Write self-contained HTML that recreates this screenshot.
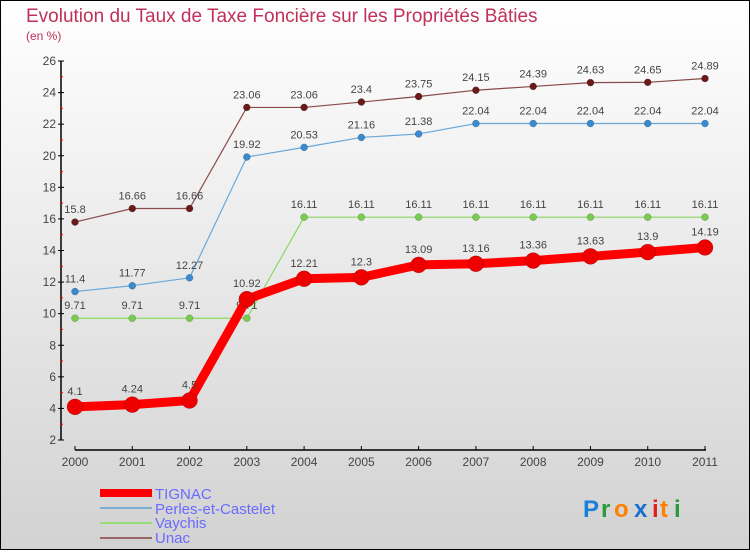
<!DOCTYPE html>
<html><head><meta charset="utf-8"><style>
body{margin:0}
#c{width:750px;height:550px;position:relative;font-family:"Liberation Sans",sans-serif}
text{font-family:"Liberation Sans",sans-serif}
</style></head><body>
<div id="c">
<svg id="s" width="750" height="550" xmlns="http://www.w3.org/2000/svg">
<defs><linearGradient id="bg" x1="0" y1="0" x2="0" y2="1"><stop offset="0" stop-color="#ffffff"/><stop offset="1" stop-color="#d2d2d2"/></linearGradient></defs>
<rect x="0.5" y="0.5" width="749" height="549" fill="url(#bg)" stroke="#000"/>
<text x="26" y="22" font-size="19" fill="#c0305a">Evolution du Taux de Taxe Foncière sur les Propriétés Bâties</text>
<text x="26" y="40" font-size="12" fill="#c0305a">(en %)</text>
<g id="axes"></g><g id="series"></g>
<g>
<rect x="100" y="489" width="52" height="8" fill="#f00"/>
<text x="155" y="499" font-size="15" fill="#6a6aff">TIGNAC</text>
<line x1="100" y1="508" x2="152" y2="508" stroke="#7aaed0" stroke-width="2"/>
<text x="155" y="514" font-size="15" fill="#6a6aff">Perles-et-Castelet</text>
<line x1="100" y1="523" x2="152" y2="523" stroke="#99dd77" stroke-width="2"/>
<text x="155" y="528" font-size="15" fill="#6a6aff">Vaychis</text>
<line x1="100" y1="538" x2="152" y2="538" stroke="#996666" stroke-width="2"/>
<text x="155" y="543" font-size="15" fill="#6a6aff">Unac</text>
</g>
<g font-size="24" font-weight="bold">
<text x="583" y="517" fill="#1a7fd8">P</text><text x="601" y="517" fill="#2a9a3a">r</text><text x="614" y="517" fill="#ff7f00">o</text><text x="634" y="517" fill="#1a6fd0">x</text><text x="652" y="517" fill="#e02020">i</text><text x="660" y="517" fill="#ff7f00">t</text><text x="674" y="517" fill="#2a9a3a">i</text>
</g>
</svg>
</div>
<script>
const years=["2000","2001","2002","2003","2004","2005","2006","2007","2008","2009","2010","2011"];
const yTicks=[2,4,6,8,10,12,14,16,18,20,22,24,26];
const tignac=[4.1,4.24,4.5,10.92,12.21,12.3,13.09,13.16,13.36,13.63,13.9,14.19];
const perles=[11.4,11.77,12.27,19.92,20.53,21.16,21.38,22.04,22.04,22.04,22.04,22.04];
const vaychis=[9.71,9.71,9.71,9.71,16.11,16.11,16.11,16.11,16.11,16.11,16.11,16.11];
const unac=[15.8,16.66,16.66,23.06,23.06,23.4,23.75,24.15,24.39,24.63,24.65,24.89];
const NS="http://www.w3.org/2000/svg";
const xS=i=>75+i*(630/11);
const yS=v=>440-(v-2)*(379/24);
function mk(tag,attrs,parent){const e=document.createElementNS(NS,tag);for(const k in attrs)e.setAttribute(k,attrs[k]);parent.appendChild(e);return e;}
const ax=document.getElementById('axes');
let yl=mk('line',{x1:61,y1:61,x2:61,y2:440,stroke:'#000','stroke-width':1.5},ax);


yTicks.forEach(t=>{const y=yS(t);
 mk('line',{x1:58,y1:y,x2:64,y2:y,stroke:'#000'},ax);
 if(t<26)mk('line',{x1:60,y1:yS(t+1),x2:63,y2:yS(t+1),stroke:'#e00'},ax);
 const tx=mk('text',{x:56,y:y+4,'font-size':12,fill:'#444','text-anchor':'end'},ax);tx.textContent=t;
 
 });
let xl=mk('line',{x1:75,y1:450,x2:706,y2:450,stroke:'#000','stroke-width':1.5},ax);


years.forEach((yr,i)=>{const x=xS(i);mk('line',{x1:x,y1:446,x2:x,y2:450,stroke:'#000'},ax);
 const tx=mk('text',{x:x,y:466,'font-size':12,fill:'#444','text-anchor':'middle'},ax);tx.textContent=yr;
 
 });
const sg=document.getElementById('series');
function draw(data,name,color,dot,w,r,labDy){
 const g=mk('g',{},sg);
 
 
 mk('polyline',{points:data.map((v,i)=>xS(i)+','+yS(v)).join(' '),fill:'none',stroke:color,'stroke-width':w,'stroke-linejoin':'round'},g);
 data.forEach((v,i)=>{const c=mk('circle',{cx:xS(i),cy:yS(v),r:r,fill:dot,stroke:'rgba(0,0,0,0.3)','stroke-width':0.5},g);
  
  
  const t=mk('text',{x:xS(i),y:yS(v)+labDy,'font-size':11,fill:'#444','text-anchor':'middle'},g);t.textContent=v;
  
  });
}
draw(unac,'unac','#8a4a4a','#6b1a1a',1.2,3.5,-9);
draw(perles,'perles','#6aa8d8','#3a8ad0',1.2,3.5,-9);
draw(vaychis,'vaychis','#8ad860','#7acc50',1.2,3.5,-9);
draw(tignac,'tignac','#f00','#e00',9,8,-12);
</script>
</body></html>
